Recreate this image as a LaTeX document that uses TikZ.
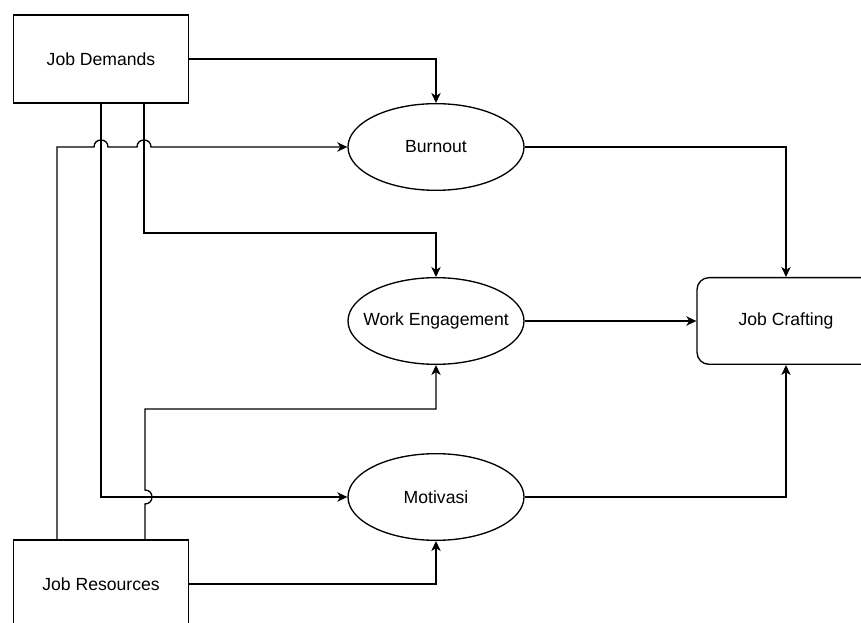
\documentclass[tikz,border=0pt]{standalone}
\usepackage{fontspec}
\setmainfont{Liberation Sans}
\usetikzlibrary{shapes.geometric,arrows.meta,calc}
\begin{document}
\begin{tikzpicture}[x=0.75pt,y=-0.75pt,
  every node/.style={font=\fontsize{13.2pt}{15pt}\selectfont, text=black, inner sep=0pt},
  boxnode/.style={draw, line width=1pt, rectangle, minimum width=131.25pt, minimum height=66pt},
  ellnode/.style={draw, line width=1pt, ellipse, minimum width=132pt, minimum height=65pt},
  roundnode/.style={draw, line width=1pt, rectangle, rounded corners=9pt, minimum width=133.5pt, minimum height=65pt},
  conn/.style={line width=1pt, -{Stealth[length=7.5pt,width=7pt,inset=2.2pt]}}]
\clip (0,0) rectangle (861,623);
\fill[white] (0,0) rectangle (861,623);

% nodes (ellipses keep a fixed size; their text sits in a centred label)
\node[boxnode] (jd) at (101,59) {Job Demands};
\node[boxnode] (jr) at (101,584) {Job Resources};
\node[ellnode, label=center:Burnout] (bo) at (436,147) {};
\node[ellnode, label=center:Work Engagement] (we) at (436,321) {};
\node[ellnode, label=center:Motivasi] (mo) at (436,497) {};
\node[roundnode] (jc) at (786,321) {Job Crafting};

% start points on the box edges
\coordinate (jdA) at (jd.south);
\coordinate (jdB) at ($(jd.south)+(43,0)$);
\coordinate (jrA) at ($(jr.north)+(-44,0)$);
\coordinate (jrB) at ($(jr.north)+(44,0)$);

% Job Demands connectors
\draw[conn] (jd.east) -| (bo.north);
\draw[conn] (jdB) |- ($(we.north)+(0,-44)$) -- (we.north);
\draw[conn] (jdA) |- (mo.west);

% Job Resources connectors (with line hops)
\draw[conn] (jrA) |- (94,147)
  .. controls (94,137.7) and (108,137.7) .. (108,147) -- (137,147)
  .. controls (137,137.7) and (151,137.7) .. (151,147) -- (bo.west);
\draw[conn] (jrB) -- (145,504)
  .. controls (154.3,504) and (154.3,490) .. (145,490)
  |- ($(we.south)+(0,44)$) -- (we.south);
\draw[conn] (jr.east) -| (mo.south);

% into Job Crafting
\draw[conn] (bo.east) -| (jc.north);
\draw[conn] (we.east) -- (jc.west);
\draw[conn] (mo.east) -| (jc.south);
\end{tikzpicture}
\end{document}
